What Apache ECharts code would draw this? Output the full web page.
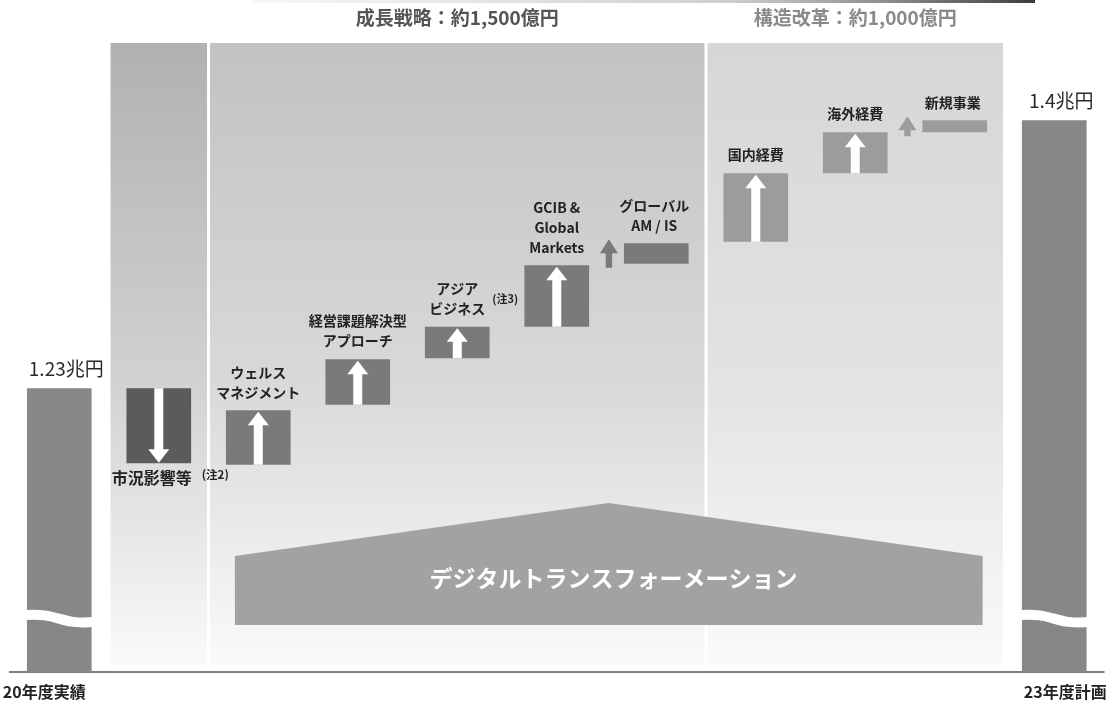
<!DOCTYPE html>
<html><head><meta charset="utf-8">
<script src="https://cdn.jsdelivr.net/npm/echarts@6/dist/echarts.min.js"></script>
<style>html,body{margin:0;padding:0;background:#fff}#c{width:1110px;height:709px}</style>
</head><body><div id="c"></div>
<script>
// ---------- data ----------
const categories = ['20年度実績', '市況影響等', 'ウェルス\nマネジメント', '経営課題解決型\nアプローチ', 'アジア\nビジネス', 'GCIB &\nGlobal\nMarkets', 'グローバル\nAM / IS', '国内経費', '海外経費', '新規事業', '23年度計画'];
// 億円 (axis is broken below 1.05兆円)
const barLow  = [10500, 11825, 11815, 12195, 12490, 12690, 13090, 13230, 13665, 13925, 10500];
const barHigh = [12300, 12300, 12160, 12485, 12690, 13080, 13220, 13665, 13925, 14000, 14000];
const barKind = ['total', 'down', 'up', 'up', 'up', 'up', 'side', 'up', 'up', 'side', 'total'];
const barTone = ['total', 'down', 'growth', 'growth', 'growth', 'growth', 'growth', 'reform', 'reform', 'reform', 'total'];
const notes = ['', '(注2)', '', '', '(注3)', '', '', '', '', '', ''];
const totalLabels = ['1.23兆円', '', '', '', '', '', '', '', '', '', '1.4兆円'];
const groupTitles = ['', '成長戦略：約1,500億円', '構造改革：約1,000億円'];
const groupBounds = [[0.5, 1.5], [1.5, 6.5], [6.5, 9.5]];
const dxLabel = 'デジタルトランスフォーメーション';

// ---------- layout / style ----------
const AXIS_MIN = 10500, AXIS_MAX = 14700;
const BREAK_VALUE = 10842;
const PANEL_TOP = 14490, PANEL_BOTTOM = 10544;
const DX = { left: 1.765, apex: 5.52, right: 9.28, bottom: 10798, shoulder: 11236, top: 11572, text: 11096 };
const FONT = '"Noto Sans CJK JP", "Noto Sans", sans-serif';
const toneColor = { total: '#878787', down: '#5b5b5b', growth: '#7a7a7a', reform: '#9c9c9c' };
const panelTop = ['#b1b1b1', '#c2c2c2', '#d6d6d6'];
const panelMid = ['#d2d2d2', '#d9d9d9', '#e3e3e3'];
const titleColor = ['#555', '#555', '#8a8a8a'];

const chart = echarts.init(document.getElementById('c'), null, { renderer: 'canvas' });

function upArrow(cx, top, bottom, hw, hh, sw, fill) {
  return { type: 'polygon', shape: { points: [
    [cx, top], [cx + hw, top + hh], [cx + sw, top + hh], [cx + sw, bottom],
    [cx - sw, bottom], [cx - sw, top + hh], [cx - hw, top + hh]] }, style: { fill } };
}
function downArrow(cx, top, bottom, hw, hh, sw, fill) {
  return { type: 'polygon', shape: { points: [
    [cx, bottom], [cx + hw, bottom - hh], [cx + sw, bottom - hh], [cx + sw, top],
    [cx - sw, top], [cx - sw, bottom - hh], [cx - hw, bottom - hh]] }, style: { fill } };
}

const barData = categories.map((c, i) => [i, barLow[i], barHigh[i]]);
const panelData = groupBounds.map((b, k) => [b[0], b[1], k]);

const option = {
  animation: false,
  backgroundColor: '#fff',
  grid: { left: 6, right: 6, top: 10, bottom: 37 },
  xAxis: [{
    type: 'category', data: categories, boundaryGap: true,
    axisTick: { show: false },
    axisLine: { lineStyle: { color: '#555', width: 1.5 } },
    axisLabel: {
      interval: 0, margin: 12,
      formatter: (v, idx) => idx === 0 ? '{l|' + v + '}' : (idx === categories.length - 1 ? '{r|' + v + '}' : ''),
      rich: {
        l: { fontSize: 16, fontWeight: 'bold', fontFamily: FONT, color: '#222', padding: [0, 30, 0, 0] },
        r: { fontSize: 16, fontWeight: 'bold', fontFamily: FONT, color: '#222', padding: [0, 0, 0, 22] }
      }
    }
  }, {
    type: 'value', min: -0.5, max: categories.length - 0.5, show: false
  }],
  yAxis: { type: 'value', min: AXIS_MIN, max: AXIS_MAX, show: false, splitLine: { show: false } },
  graphic: [{
    type: 'line', z: 10, shape: { x1: 250, y1: 1.5, x2: 1035, y2: 1.5 },
    style: { lineWidth: 3, stroke: new echarts.graphic.LinearGradient(0, 0, 1, 0, [
      { offset: 0, color: 'rgba(120,120,120,0.05)' }, { offset: 0.6, color: 'rgba(120,120,120,0.35)' }, { offset: 1, color: '#3a3a3a' }]) }
  }],
  series: [
    {
      type: 'custom', name: 'panels', xAxisIndex: 1, yAxisIndex: 0, z: 0, clip: false,
      data: panelData,
      renderItem(params, api) {
        const a = api.value(0), b = api.value(1), k = api.value(2);
        const pA = api.coord([a, PANEL_TOP]);
        const pB = api.coord([b, PANEL_BOTTOM]);
        const x0 = pA[0] + 1.5, x1 = pB[0] - 1.5;
        const children = [{
          type: 'rect', shape: { x: x0, y: pA[1], width: x1 - x0, height: pB[1] - pA[1] },
          style: { fill: new echarts.graphic.LinearGradient(0, 0, 0, 1, [
            { offset: 0, color: panelTop[k] }, { offset: 0.55, color: panelMid[k] }, { offset: 1, color: '#fafafa' }]) }
        }];
        if (groupTitles[k]) {
          children.push({ type: 'text', style: { text: groupTitles[k], x: (x0 + x1) / 2, y: pA[1] - 25,
            align: 'center', verticalAlign: 'middle', fontSize: 19, fontWeight: 'bold', fontFamily: FONT, fill: titleColor[k] } });
        }
        return { type: 'group', children };
      }
    },
    {
      type: 'custom', name: 'dx', xAxisIndex: 1, yAxisIndex: 0, z: 1, clip: false,
      data: [[DX.apex, DX.top]],
      renderItem(params, api) {
        const pts = [[DX.left, DX.bottom], [DX.left, DX.shoulder], [DX.apex, DX.top], [DX.right, DX.shoulder], [DX.right, DX.bottom]].map(p => api.coord(p));
        const t = api.coord([DX.apex, DX.text]);
        return { type: 'group', children: [
          { type: 'polygon', shape: { points: pts }, style: { fill: '#a2a2a2' } },
          { type: 'text', style: { text: dxLabel, x: t[0] + 5, y: t[1], align: 'center', verticalAlign: 'middle',
            fontSize: 23, fontWeight: 'bold', fontFamily: FONT, fill: '#fff' } }
        ] };
      }
    },
    {
      type: 'custom', name: 'waterfall', xAxisIndex: 0, yAxisIndex: 0, z: 2, clip: false,
      encode: { x: 0, y: [1, 2] },
      data: barData,
      renderItem(params, api) {
        const i = api.value(0);
        const pHi = api.coord([i, api.value(2)]);
        const pLo = api.coord([i, api.value(1)]);
        const band = api.size([1, 0])[0];
        const w = band * 0.65;
        const cx = pHi[0], top = pHi[1], bottom = pLo[1];
        const kind = barKind[i];
        const fill = toneColor[barTone[i]];
        const children = [{ type: 'rect', shape: { x: cx - w / 2, y: top, width: w, height: bottom - top }, style: { fill } }];
        const lblStyle = { fontSize: 14, fontWeight: 'bold', fontFamily: FONT, fill: '#222', lineHeight: 20 };
        if (kind === 'up') {
          children.push(upArrow(cx, top + 1.5, bottom, 10.5, 13.5, 4.5, '#fff'));
        } else if (kind === 'down') {
          children.push(downArrow(cx, top, bottom - 0.5, 10.5, 13.5, 4.5, '#fff'));
        } else if (kind === 'side') {
          const ax = cx - w / 2 - 15;
          children.push(upArrow(ax, top - 4, bottom + 4, 9, 14, 3.2, fill));
        }
        if (kind === 'total') {
          children.push({ type: 'text', style: { text: totalLabels[i], x: cx + 7, y: top - 10, align: 'center', verticalAlign: 'bottom',
            fontSize: 19, fontFamily: FONT, fill: '#2a2a2a' } });
        } else if (kind === 'down') {
          children.push({ type: 'text', style: Object.assign({}, lblStyle, { text: categories[i], x: cx - 47, y: bottom + 15, align: 'left', verticalAlign: 'middle', fontSize: 16 }) });
          if (notes[i]) children.push({ type: 'text', style: { text: notes[i], x: cx + 43, y: bottom + 11, align: 'left', verticalAlign: 'middle', fontSize: 11.5, fontWeight: 'bold', fontFamily: FONT, fill: '#222' } });
        } else {
          const lx = kind === 'side' ? cx - 2 : cx;
          children.push({ type: 'text', style: Object.assign({}, lblStyle, { text: categories[i], x: lx, y: top - 8, align: 'center', verticalAlign: 'bottom' }) });
          if (notes[i]) children.push({ type: 'text', style: { text: notes[i], x: cx + 35, y: top - 28, align: 'left', verticalAlign: 'middle', fontSize: 11, fontWeight: 'bold', fontFamily: FONT, fill: '#222' } });
        }
        return { type: 'group', children };
      }
    },
    {
      type: 'custom', name: 'breaks', xAxisIndex: 0, yAxisIndex: 0, z: 3, clip: false,
      data: categories.map((c, i) => i).filter(i => barKind[i] === 'total').map(i => [i, BREAK_VALUE]),
      renderItem(params, api) {
        const p = api.coord([api.value(0), api.value(1)]);
        const w = api.size([1, 0])[0] * 0.65;
        const x0 = p[0] - w / 2 - 2, x1 = p[0] + w / 2 + 2, y = p[1];
        return { type: 'bezierCurve', shape: { x1: x0, y1: y - 3, cpx1: x0 + w * 0.5, cpy1: y - 6, cpx2: x0 + w * 0.55, cpy2: y + 7, x2: x1, y2: y + 4 },
          style: { stroke: '#fff', lineWidth: 10, fill: null } };
      }
    }
  ]
};
chart.setOption(option);
</script></body></html>
